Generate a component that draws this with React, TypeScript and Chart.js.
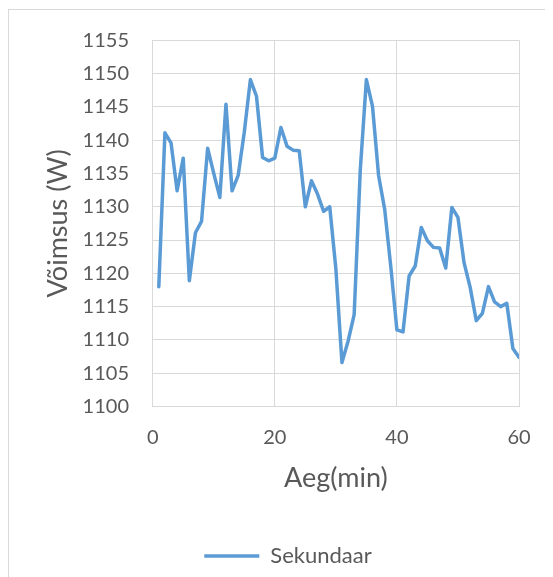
import React, { useEffect, useRef } from "react";
import { Chart, registerables } from "chart.js";

Chart.register(...registerables);

const minutes: number[] = [
  1, 2, 3, 4, 5, 6, 7, 8, 9, 10, 11, 12, 13, 14, 15, 16, 17, 18, 19, 20,
  21, 22, 23, 24, 25, 26, 27, 28, 29, 30, 31, 32, 33, 34, 35, 36, 37, 38, 39, 40,
  41, 42, 43, 44, 45, 46, 47, 48, 49, 50, 51, 52, 53, 54, 55, 56, 57, 58, 59, 60,
];

const sekundaar: number[] = [
  1118.0, 1141.1, 1139.6, 1132.4, 1137.3, 1118.9, 1126.1, 1127.8, 1138.8, 1135.0,
  1131.4, 1145.4, 1132.4, 1134.7, 1141.2, 1149.1, 1146.6, 1137.4, 1136.9, 1137.3,
  1141.9, 1139.1, 1138.5, 1138.4, 1130.0, 1133.9, 1131.9, 1129.3, 1130.0, 1120.7,
  1106.6, 1109.8, 1113.8, 1135.5, 1149.1, 1145.1, 1134.7, 1129.6, 1121.0, 1111.5,
  1111.2, 1119.6, 1121.1, 1126.9, 1124.9, 1123.9, 1123.8, 1120.8, 1129.9, 1128.4,
  1121.6, 1117.9, 1112.9, 1114.0, 1118.0, 1115.7, 1115.0, 1115.5, 1108.7, 1107.4,
];

const seriesName = "Sekundaar";
const xTitle = "Aeg(min)";
const yTitle = "Võimsus (W)";
const xMin = 0, xMax = 60, xStep = 20;
const yMin = 1100, yMax = 1155, yStep = 5;

export default function App() {
  const ref = useRef<HTMLCanvasElement | null>(null);

  useEffect(() => {
    if (!ref.current) return;
    const gray = "#d9d9d9";
    const text = "#595959";
    const fam = "Lato, Carlito, 'Noto Sans', sans-serif";
    const chart = new Chart(ref.current, {
      type: "line",
      data: {
        datasets: [
          {
            label: seriesName,
            data: minutes.map((m, i) => ({ x: m, y: sekundaar[i] })),
            borderColor: "#5b9bd5",
            backgroundColor: "#5b9bd5",
            borderWidth: 3.5,
            pointRadius: 0,
            borderJoinStyle: "round",
            borderCapStyle: "round",
            tension: 0,
            yAxisID: "y",
          },
        ],
      },
      options: {
        animation: false,
        responsive: false,
        maintainAspectRatio: false,
        layout: { padding: { top: 30.3, left: 20, right: 20, bottom: 3 } },
        plugins: {
          tooltip: { enabled: false },
          legend: {
            position: "bottom",
            labels: {
              usePointStyle: true,
              pointStyle: "line",
              pointStyleWidth: 55,
              color: text,
              font: { family: fam, size: 22 },
              padding: 12,
            },
          },
        },
        scales: {
          x: {
            type: "linear",
            min: xMin,
            max: xMax,
            ticks: {
              stepSize: xStep,
              color: text,
              font: { family: fam, size: 20 },
              padding: 19.5,
              maxRotation: 0,
            },
            grid: { color: gray, lineWidth: 1, drawTicks: false },
            border: { color: gray, width: 1 },
            title: {
              display: true,
              text: xTitle,
              color: text,
              font: { family: fam, size: 27 },
              padding: { top: 0, bottom: 38.3 },
            },
            afterFit: (s: any) => {
              s.height = 126.5;
            },
          },
          y: {
            type: "linear",
            position: "left",
            min: yMin,
            max: yMax,
            ticks: {
              stepSize: yStep,
              color: text,
              font: { family: fam, size: 20, lineHeight: 0.5 },
              padding: 23.7,
              callback: (v: any) => String(v),
            },
            grid: { color: gray, lineWidth: 1, drawTicks: false },
            border: { color: gray, width: 1 },
            title: {
              display: true,
              text: yTitle,
              color: text,
              font: { family: fam, size: 27 },
              padding: { top: 12.8, bottom: 8 },
            },
            afterFit: (s: any) => {
              s.width = 123.7;
            },
          },
          y2: {
            type: "linear",
            position: "right",
            min: yMin,
            max: yMax,
            display: true,
            grid: { display: false, drawTicks: false },
            border: { display: false },
            ticks: { display: false },
            afterFit: (s: any) => {
              s.width = 28;
            },
          },
        },
      },
    } as any);
    return () => chart.destroy();
  }, []);

  return (
    <div
      style={{
        width: 545,
        height: 570,
        overflow: "hidden",
        borderLeft: "1px solid #d9d9d9",
        borderTop: "1px solid #d9d9d9",
        marginTop: 1,
        background: "#fff",
      }}
    >
      <canvas ref={ref} width={558} height={570} style={{ display: "block" }} />
    </div>
  );
}
